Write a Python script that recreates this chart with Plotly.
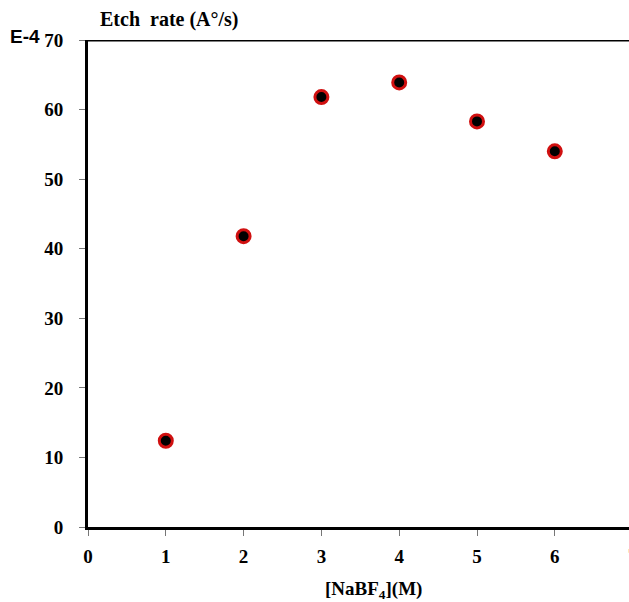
import plotly.graph_objects as go

conc = [1, 2, 3, 4, 5, 6]
etch_rate = [12.4, 41.8, 61.8, 63.9, 58.3, 54.0]
x_ticks = [0, 1, 2, 3, 4, 5, 6]
y_ticks = [0, 10, 20, 30, 40, 50, 60, 70]

W, H = 629, 602
ml, mr, mt, mb = 88, 0, 40, 75
px_per_x = 77.8
xmax = (W - ml - mr) / px_per_x

fig = go.Figure()
fig.add_trace(go.Scatter(
    x=conc, y=etch_rate, mode="markers",
    marker=dict(size=13, color="black", line=dict(color="#d01010", width=3)),
    cliponaxis=False, showlegend=False,
))

tfont = dict(family="Liberation Serif", size=19, color="black", weight="bold")
font = dict(family="Liberation Serif", size=19, color="black")
fig.update_layout(
    width=W, height=H, margin=dict(l=ml, r=mr, t=mt, b=mb),
    paper_bgcolor="white", plot_bgcolor="white",
    xaxis=dict(range=[0, xmax], tickvals=x_ticks, ticktext=[str(v) for v in x_ticks],
               showgrid=False, zeroline=False, showline=True, linecolor="black", linewidth=3,
               ticks="outside", ticklen=6, tickcolor="#777", tickwidth=1,
               tickfont=tfont, ticklabelstandoff=4),
    yaxis=dict(range=[0, 70], tickvals=y_ticks, showgrid=False, zeroline=False,
               showline=True, linecolor="black", linewidth=3,
               ticks="outside", ticklen=6, tickcolor="#777", tickwidth=1,
               tickfont=tfont, ticklabelstandoff=12),
)
# top border
fig.add_shape(type="line", xref="paper", yref="y", x0=0, x1=1, y0=70, y1=70,
              line=dict(color="black", width=3))
# partly clipped "7" tick label
fig.add_annotation(xref="paper", yref="paper", x=7 / xmax, y=0, yshift=-28, text="<b>7</b>",
                   showarrow=False, font=font, xanchor="center", yanchor="middle")
fig.add_annotation(xref="paper", yref="paper", x=(373 - ml) / (W - ml), y=0, yshift=-63,
                   text="<b>[NaBF<sub>4</sub>](M)</b>", showarrow=False, font=font,
                   xanchor="center", yanchor="middle")
fig.add_annotation(xref="paper", yref="paper", x=(98 - ml) / (W - ml), y=1, yshift=21,
                   text="<b>Etch  rate (A°/s)</b>", showarrow=False,
                   font=dict(family="Liberation Serif", size=20, color="black"),
                   xanchor="left", yanchor="middle")
fig.add_annotation(xref="paper", yref="paper", x=(8 - ml) / (W - ml), y=1, yshift=4,
                   text="<b>E-4</b>", showarrow=False,
                   font=dict(family="Liberation Sans", size=19, color="black"),
                   xanchor="left", yanchor="middle")

fig.write_html("out.html")
